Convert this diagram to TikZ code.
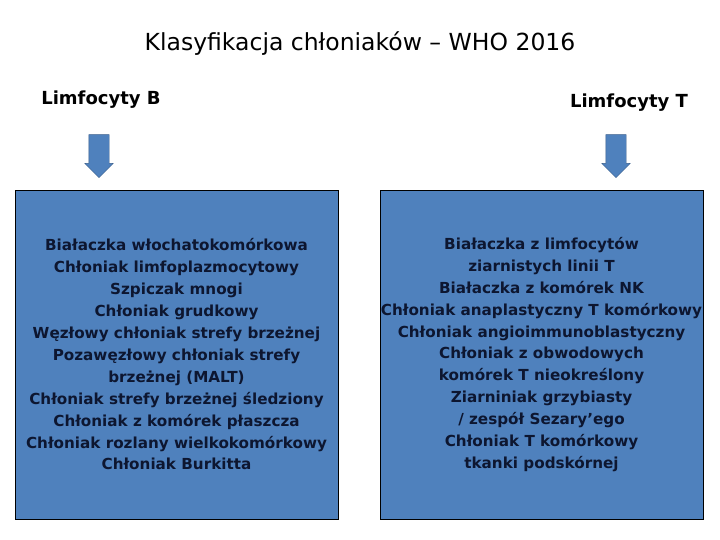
\documentclass[tikz,border=0pt]{standalone}
\usepackage{fontspec}
\setmainfont{DejaVu Sans}
\usepackage{tikz}
\usetikzlibrary{positioning,shapes.arrows}
\definecolor{boxblue}{HTML}{4F81BD}
\definecolor{arrowrim}{HTML}{385D8A}
\definecolor{inktext}{HTML}{0D1630}
\tikzset{
	group box/.style={draw=black, fill=boxblue, text=inktext,
		minimum width=323pt, minimum height=329pt, inner sep=0pt,
		align=center, font=\bfseries\fontsize{15.2}{21.9}\selectfont},
	group label/.style={font=\bfseries\fontsize{18}{20}\selectfont},
	down arrow/.style={single arrow, shape border rotate=270,
		draw=arrowrim, fill=boxblue, inner sep=10pt,
		minimum height=43pt, single arrow head extend=4pt}
}

\begin{document}
\begin{tikzpicture}[x=1pt, y=-1pt]
  \useasboundingbox (0,0) rectangle (720,540);
  \node[font=\fontsize{23.5}{26}\selectfont] (title) at (360,44) {Klasyfikacja chłoniaków – WHO 2016};
  \node[group label] (limB) at (101,100) {Limfocyty B};
  \node[group label] (limT) at (629,103) {Limfocyty T};
  \node[down arrow] (arrB) at (99,151) {};
  \node[down arrow] (arrT) at (616,151) {};
  % lymphoma lists
  \node[group box] (boxB) at (176.5,354.5) {%
    Białaczka włochatokomórkowa\\
    Chłoniak limfoplazmocytowy\\
    Szpiczak mnogi\\
    Chłoniak grudkowy\\
    Węzłowy chłoniak strefy brzeżnej\\
    Pozawęzłowy chłoniak strefy\\
    brzeżnej (MALT)\\
    Chłoniak strefy brzeżnej śledziony\\
    Chłoniak z komórek płaszcza\\
    Chłoniak rozlany wielkokomórkowy\\
    Chłoniak Burkitta};
  \node[group box] (boxT) at (541.5,354.5) {%
    Białaczka z limfocytów\\
    ziarnistych linii T\\
    Białaczka z komórek NK\\
    Chłoniak anaplastyczny T komórkowy\\
    Chłoniak angioimmunoblastyczny\\
    Chłoniak z obwodowych\\
    komórek T nieokreślony\\
    Ziarniniak grzybiasty\\
    / zespół Sezary’ego\\
    Chłoniak T komórkowy\\
    tkanki podskórnej};
\end{tikzpicture}
\end{document}
